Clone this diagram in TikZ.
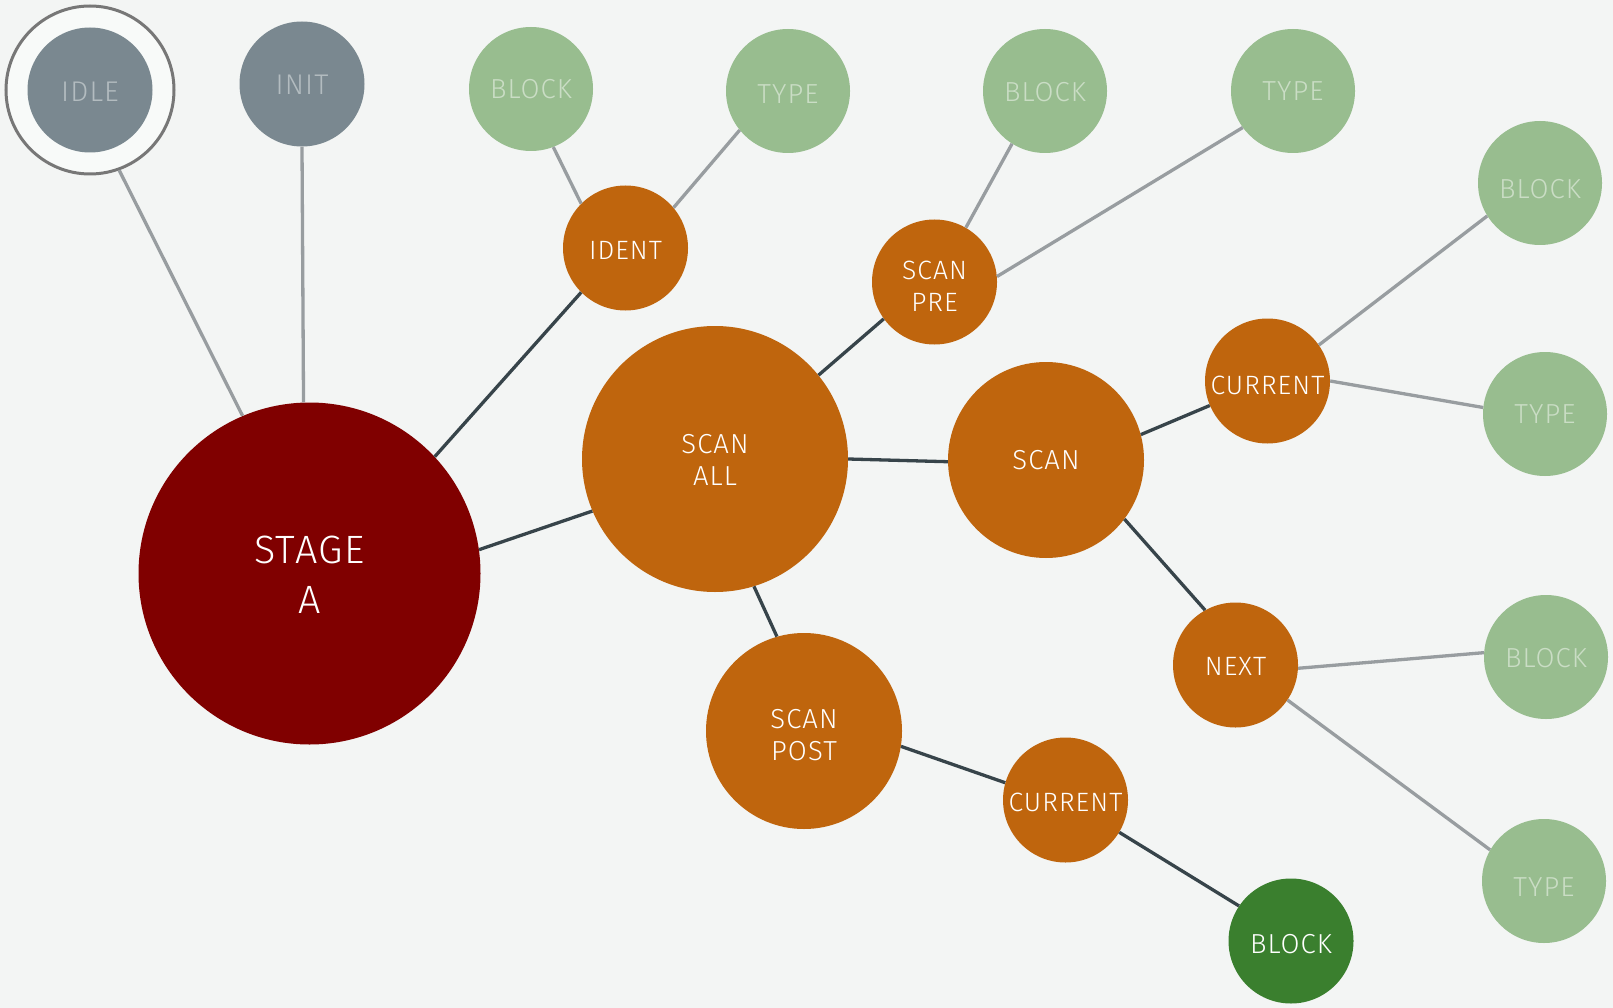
\documentclass[tikz,border=0pt]{standalone}
\usepackage{fontspec}
\setmainfont{Fira Sans Light}[LetterSpace=4]
\definecolor{bg}{HTML}{F3F5F4}
\definecolor{graynode}{HTML}{7A8890}
\definecolor{graytext}{HTML}{B3BCC0}
\definecolor{lgreen}{HTML}{98BD8F}
\definecolor{lgreentext}{HTML}{CADDC5}
\definecolor{orange}{HTML}{BF650D}
\definecolor{darkred}{HTML}{800000}
\definecolor{dgreen}{HTML}{3A7F2E}
\definecolor{glink}{HTML}{989DA0}
\definecolor{dlink}{HTML}{37444A}
\definecolor{ringc}{HTML}{777777}
\definecolor{ringfill}{HTML}{F8FAF9}
% lower a node's text by #1 (taller invisible strut on the first line)
\newcommand\dn[1]{\rule{0pt}{\dimexpr\fontcharht\font`\E+#1*2\relax}}
\tikzset{
  circ/.style={circle, inner sep=0pt, align=center},
  graystate/.style={circ, fill=graynode, text=graytext, minimum size=125pt, font=\fontsize{28.5}{32}\selectfont},
  leaf/.style={circ, fill=lgreen, text=lgreentext, minimum size=124pt, font=\fontsize{27.5}{32}\selectfont},
  small/.style={circ, fill=orange, text=white, minimum size=125pt, font=\fontsize{26.5}{32}\selectfont},
  mid/.style={circ, fill=orange, text=white, minimum size=196pt, font=\fontsize{27.5}{32}\selectfont},
  big/.style={circ, fill=orange, text=white, minimum size=266pt, font=\fontsize{27.5}{32}\selectfont},
  stage/.style={circ, fill=darkred, text=white, minimum size=342pt, font=\fontsize{39.5}{50}\selectfont},
  final/.style={circ, fill=dgreen, text=white, minimum size=125pt, font=\fontsize{27.5}{32}\selectfont},
  ring/.style={circle, inner sep=0pt, minimum size=168pt, fill=ringfill, draw=ringc, line width=3pt},
  glinkst/.style={draw=glink, line width=3.3pt},
  dlinkst/.style={draw=dlink, line width=3.3pt},
}
\begin{document}
\begin{tikzpicture}[x=1pt,y=-1pt]
\fill[bg] (0,0) rectangle (1613,1008);
\useasboundingbox (0,0) rectangle (1613,1008);
% nodes
\node[ring] (idlering) at (90,90) {};
\node[graystate] (idle) at (90,90) {\dn{2pt}IDLE};
\node[graystate] (init) at (302,84) {\dn{1pt}INIT};
\node[stage] (stage) at (309.5,573.5) {\dn{1pt}STAGE\\A};
\node[big] (scanall) at (715,459) {\dn{1pt}SCAN\\ALL};
\node[small] (ident) at (625.5,248) {\dn{2pt}IDENT};
\node[leaf] (block1) at (531,89) {BLOCK};
\node[leaf] (type1) at (788,91) {\dn{3pt}TYPE};
\node[small] (scanpre) at (934.5,282) {\dn{4pt}SCAN\\PRE};
\node[leaf] (block2) at (1045,91) {\dn{1pt}BLOCK};
\node[leaf] (type2) at (1293,91) {TYPE};
\node[mid] (scan) at (1046,460) {SCAN};
\node[small] (cur1) at (1267.5,381) {\dn{5pt}CURRENT};
\node[leaf] (block3) at (1540,183) {\dn{6pt}BLOCK};
\node[leaf] (type3) at (1545,414) {TYPE};
\node[small] (next) at (1235.5,665) {\dn{1pt}NEXT};
\node[leaf] (block4) at (1546,657) {\dn{1pt}BLOCK};
\node[leaf] (type4) at (1544,881) {\dn{6pt}TYPE};
\node[mid] (scanpost) at (804,731) {\dn{4pt}SCAN\\POST};
\node[small] (cur2) at (1065.5,800) {\dn{3pt}CURRENT};
\node[final] (block5) at (1291,941) {\dn{3pt}BLOCK};
% gray links
\draw[glinkst] (stage.113.3) -- (idlering.-70.5);
\draw[glinkst] (stage.92.5) -- (init.-90);
\draw[glinkst] (ident.135.3) -- (block1.-69.7);
\draw[glinkst] (ident.40.4) -- (type1.-141.9);
\draw[glinkst] (scanpre.60.5) -- (block2.-122.9);
\draw[glinkst] (scanpre.5.1) -- (type2.-144.2);
\draw[glinkst] (cur1.35) -- (block3.-148);
\draw[glinkst] (cur1.0) -- (type3.174.1);
\draw[glinkst] (next.-3.7) -- (block4.176.5);
\draw[glinkst] (next.-34) -- (type4.150);
% dark links
\draw[dlinkst] (stage.43.1) -- (ident.225.3);
\draw[dlinkst] (stage.8.7) -- (scanall.203.5);
\draw[dlinkst] (scanall.39.8) -- (scanpre.216.2);
\draw[dlinkst] (scanall.-0.8) -- (scan.181.8);
\draw[dlinkst] (scanall.-73.5) -- (scanpost.106.4);
\draw[dlinkst] (scan.15.9) -- (cur1.203.9);
\draw[dlinkst] (scan.-37.7) -- (next.119.9);
\draw[dlinkst] (scanpost.-9) -- (cur2.164);
\draw[dlinkst] (cur2.-31.2) -- (block5.146.5);
\end{tikzpicture}
\end{document}
